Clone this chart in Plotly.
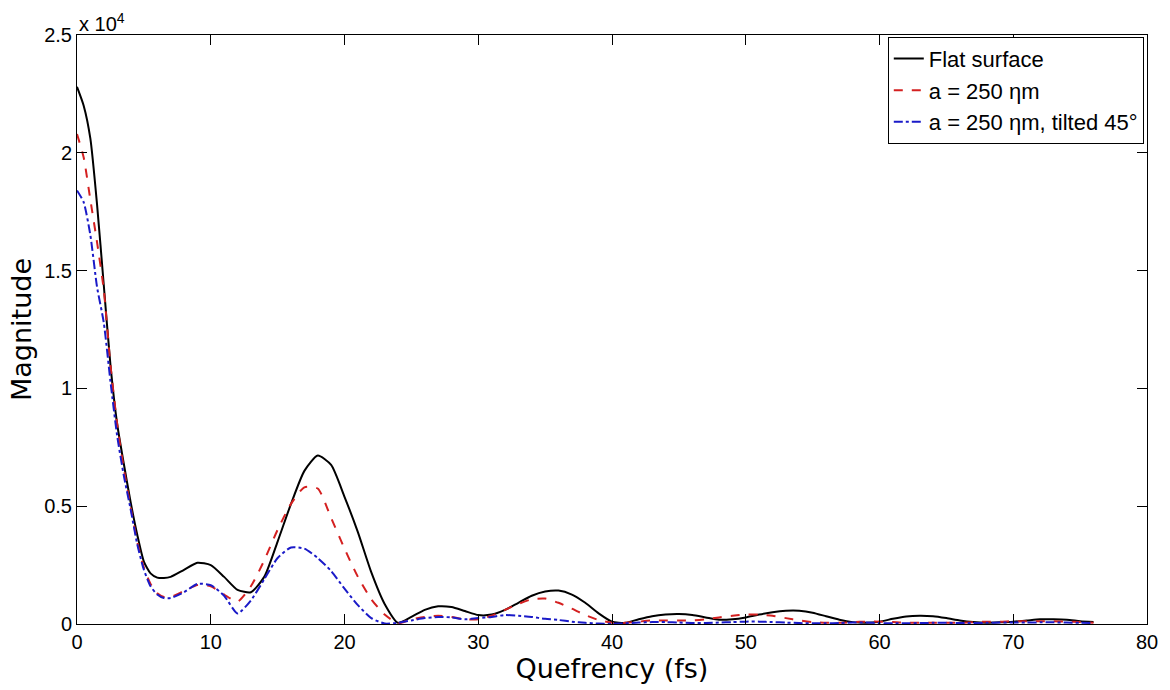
import plotly.graph_objects as go

# Quefrency axis (fs) and cepstrum magnitudes for the three surfaces
quefrency = [0, 0.5, 1, 1.5, 2, 2.5, 3, 3.5, 4, 4.5, 5, 5.5, 6, 6.5, 7, 8, 9, 10, 11, 12,
             13, 14, 15, 16, 17, 18, 19, 20, 21, 22, 23, 24, 25, 26, 27, 28, 29, 30,
             31, 32, 33, 34, 35, 36, 37, 38, 39, 40, 41, 42, 43, 44, 45, 46, 47, 48,
             49, 50, 51, 52, 53, 54, 55, 56, 57, 58, 59, 60, 61, 62, 63, 64, 65, 66,
             67, 68, 69, 70, 71, 72, 73, 74, 75, 76]

flat_surface = [22800, 22000, 20600, 17800, 14400, 11000, 8500, 6800, 5200, 3800, 2650, 2150, 1970, 1950, 2000, 2300, 2600, 2500, 2000, 1450,
                1350, 2000, 3500, 5100, 6500, 7150, 6750, 5400, 3900, 2200, 850, 50, 300, 600, 750, 720, 550, 380,
                400, 600, 900, 1200, 1380, 1420, 1250, 900, 450, 100, 50, 200, 330, 400, 420, 380, 280, 180,
                200, 280, 400, 500, 560, 560, 480, 330, 180, 80, 50, 100, 220, 320, 350, 330, 250, 150,
                80, 50, 70, 100, 150, 200, 200, 180, 120, 80]

a250 = [20800, 19800, 18000, 16200, 14200, 11000, 8500, 6600, 5000, 3500, 2400, 1700, 1300, 1150, 1150, 1400, 1650, 1600, 1250, 950,
        1600, 2700, 4000, 5100, 5800, 5750, 4500, 3200, 2000, 1050, 400, 30, 200, 300, 350, 300, 200, 200,
        350, 600, 850, 1050, 1080, 900, 650, 380, 170, 50, 50, 100, 150, 150, 150, 150, 200, 280,
        350, 400, 400, 350, 250, 150, 80, 50, 50, 80, 100, 100, 80, 50, 50, 50, 50, 50,
        80, 100, 100, 120, 120, 120, 120, 100, 80, 50]

a250_tilted = [18400, 17900, 16500, 14300, 12800, 10300, 8000, 6300, 4900, 3400, 2300, 1600, 1250, 1100, 1100, 1350, 1700, 1650, 1200, 450,
               1000, 1900, 2800, 3250, 3200, 2800, 2250, 1500, 800, 250, 20, 50, 150, 250, 300, 280, 200, 250,
               300, 380, 350, 300, 220, 170, 100, 50, 20, 10, 30, 60, 80, 80, 60, 40, 40, 60,
               80, 100, 100, 80, 60, 40, 30, 30, 40, 60, 60, 40, 30, 30, 40, 50, 50, 40,
               40, 50, 60, 60, 60, 70, 70, 60, 50, 40]

y_tick_vals = [0, 5000, 10000, 15000, 20000, 25000]
y_tick_text = ["0", "0.5", "1", "1.5", "2", "2.5"]
x_tick_vals = [0, 10, 20, 30, 40, 50, 60, 70, 80]

font_family = "Liberation Sans, Arial, sans-serif"
title_family = "DejaVu Sans, Liberation Sans, sans-serif"

fig = go.Figure()
fig.add_trace(go.Scatter(x=quefrency, y=flat_surface, mode="lines", name="Flat surface",
                         line=dict(color="black", width=2, shape="spline", smoothing=0.6)))
fig.add_trace(go.Scatter(x=quefrency, y=a250, mode="lines", name="a = 250 ηm",
                         line=dict(color="#d42020", width=2, dash="dash", shape="spline", smoothing=0.6)))
fig.add_trace(go.Scatter(x=quefrency, y=a250_tilted, mode="lines", name="a = 250 ηm, tilted 45°",
                         line=dict(color="#1a1ac8", width=2, dash="dashdot", shape="spline", smoothing=0.6)))

axis_common = dict(showline=True, linecolor="black", linewidth=1, mirror="ticks",
                   ticks="inside", ticklen=10, tickcolor="black", showgrid=False, zeroline=False,
                   tickfont=dict(family=font_family, size=20, color="black"))

fig.update_xaxes(range=[0, 80], tickvals=x_tick_vals,
                 title=dict(text="Quefrency (fs)", font=dict(family=title_family, size=27, color="black"), standoff=2),
                 **axis_common)
fig.update_yaxes(range=[0, 25000], tickvals=y_tick_vals, ticktext=y_tick_text,
                 title=dict(text="Magnitude", font=dict(family=title_family, size=27, color="black"), standoff=4),
                 **axis_common)

fig.add_annotation(x=0, y=1, xref="paper", yref="paper", xanchor="left", yanchor="bottom",
                   text="x 10<sup>4</sup>", showarrow=False, yshift=-2,
                   font=dict(family=font_family, size=20, color="black"))

fig.update_layout(
    width=1170, height=690,
    margin=dict(l=77, r=23, t=35, b=66),
    paper_bgcolor="white", plot_bgcolor="white",
    showlegend=True,
    legend=dict(x=0.997, y=0.997, xanchor="right", yanchor="top", bgcolor="white",
                bordercolor="black", borderwidth=1,
                font=dict(family=font_family, size=22, color="black"),
                tracegroupgap=0, itemwidth=30),
)

fig.write_html("out.html")
